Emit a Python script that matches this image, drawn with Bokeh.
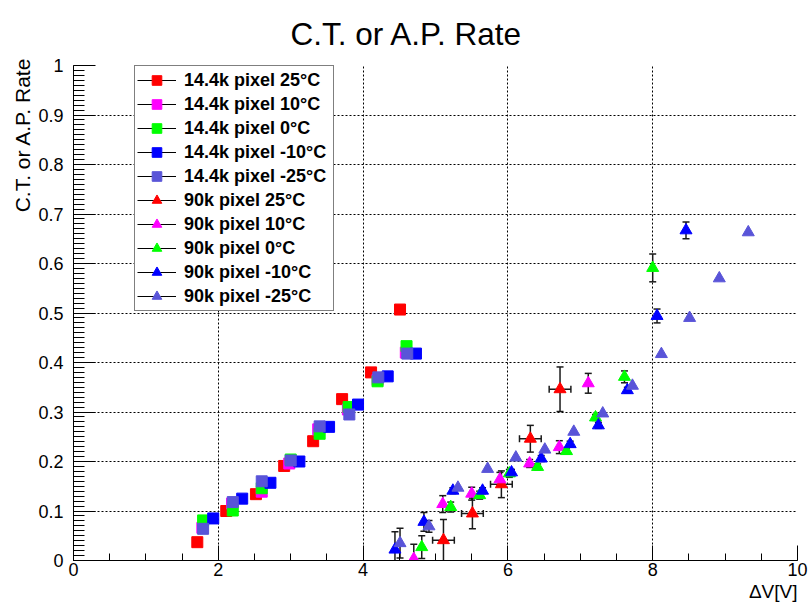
import numpy as np
from bokeh.plotting import figure
from bokeh.models import (Range1d, FixedTicker, Legend, LegendItem, Title,
                          Whisker, TeeHead, ColumnDataSource)
from bokeh.embed import file_html
from bokeh.resources import INLINE

# ---------------- data ----------------
# 14.4k pixel series (squares)
x_14k_25C = [1.71, 2.11, 2.52, 2.91, 3.31, 3.71, 4.11, 4.51]
y_14k_25C = [0.037, 0.100, 0.134, 0.191, 0.241, 0.326, 0.380, 0.507]
x_14k_10C = [1.78, 2.19, 2.60, 2.98, 3.38, 3.79, 4.20, 4.59]
y_14k_10C = [0.066, 0.115, 0.139, 0.196, 0.265, 0.305, 0.365, 0.420]
x_14k_0C = [1.79, 2.20, 2.60, 3.00, 3.40, 3.80, 4.20, 4.60]
y_14k_0C = [0.081, 0.101, 0.146, 0.204, 0.256, 0.310, 0.362, 0.433]
x_14k_m10C = [1.93, 2.33, 2.72, 3.12, 3.53, 3.93, 4.34, 4.73]
y_14k_m10C = [0.085, 0.125, 0.157, 0.200, 0.270, 0.315, 0.372, 0.418]
x_14k_m25C = [1.79, 2.20, 2.60, 3.00, 3.40, 3.81, 4.21, 4.61]
y_14k_m25C = [0.064, 0.118, 0.160, 0.202, 0.271, 0.295, 0.370, 0.418]

# 90k pixel series (triangles)
x_90k_25C = [5.11, 5.51, 5.91, 6.31, 6.72]
y_90k_25C = [0.041, 0.095, 0.154, 0.246, 0.346]
ey_90k_25C = [0.042, 0.031, 0.027, 0.027, 0.045]
ex_90k_25C = [0.15, 0.15, 0.15, 0.15, 0.15]

x_90k_10C = [4.70, 5.10, 5.50, 5.89, 6.30, 6.71, 7.11]
y_90k_10C = [0.003, 0.114, 0.135, 0.164, 0.196, 0.229, 0.358]
ey_90k_10C = [0.030, 0.017, 0.013, 0.014, 0.008, 0.013, 0.020]

x_90k_0C = [4.81, 5.21, 5.61, 6.02, 6.41, 6.81, 7.21, 7.61, 8.00]
y_90k_0C = [0.027, 0.108, 0.132, 0.176, 0.189, 0.221, 0.289, 0.371, 0.591]
ey_90k_0C = [0.023, 0.010, 0.008, 0.008, 0.006, 0.006, 0.006, 0.012, 0.028]

x_90k_m10C = [4.44, 4.84, 5.24, 5.65, 6.05, 6.46, 6.86, 7.25, 7.65, 8.06, 8.46]
y_90k_m10C = [0.022, 0.078, 0.141, 0.141, 0.178, 0.206, 0.235, 0.273, 0.344, 0.494, 0.667]
ey_90k_m10C = [0.036, 0.019, 0.006, 0.006, 0.006, 0.006, 0.006, 0.006, 0.006, 0.014, 0.017]

x_90k_m25C = [4.51, 4.91, 5.31, 5.72, 6.11, 6.51, 6.91, 7.31, 7.72, 8.12, 8.51, 8.92, 9.32]
y_90k_m25C = [0.035, 0.069, 0.147, 0.185, 0.208, 0.224, 0.260, 0.297, 0.353, 0.417, 0.490, 0.570, 0.663]
ey_90k_m25C = [0.030, 0.012, 0, 0, 0, 0, 0, 0, 0, 0, 0, 0, 0]

labels_14k = ["14.4k pixel 25\u00b0C", "14.4k pixel 10\u00b0C", "14.4k pixel 0\u00b0C",
              "14.4k pixel -10\u00b0C", "14.4k pixel -25\u00b0C"]
labels_90k = ["90k pixel 25\u00b0C", "90k pixel 10\u00b0C", "90k pixel 0\u00b0C",
              "90k pixel -10\u00b0C", "90k pixel -25\u00b0C"]
colors = ["#ff0000", "#ff00ff", "#00ff00", "#0000ff", "#5954d8"]

x_ticks = [0, 2, 4, 6, 8, 10]
x_tick_labels = ["0", "2", "4", "6", "8", "10"]
x_minor = [i * 0.5 for i in range(21)]
y_ticks = [0, 0.1, 0.2, 0.3, 0.4, 0.5, 0.6, 0.7, 0.8, 0.9, 1]
y_tick_labels = ["0", "0.1", "0.2", "0.3", "0.4", "0.5", "0.6", "0.7", "0.8", "0.9", "1"]
y_minor = [i / 100 for i in range(101)]

title_text = "C.T. or A.P. Rate"
ylabel_text = "C.T. or A.P. Rate"
xlabel_text = "\u0394V[V]"

FONT = "Liberation Sans"

# ---------------- figure ----------------
p = figure(width=810, height=603, x_range=Range1d(0, 10), y_range=Range1d(0, 1),
           output_backend="svg", toolbar_location=None,
           min_border_left=73, min_border_right=13, min_border_top=65, min_border_bottom=43)
p.outline_line_color = None
p.background_fill_color = "white"
p.border_fill_color = "white"

# title (placed as in the reference, centred on the canvas)
p.title.text = title_text
p.title.align = "left"
p.title.offset = 217
p.title.standoff = 26
p.title.vertical_align = "middle"
p.title.text_font = FONT
p.title.text_font_size = "31.5px"
p.title.text_font_style = "normal"
p.title.text_color = "black"

# axes
p.xaxis.ticker = FixedTicker(ticks=x_ticks, minor_ticks=x_minor)
p.yaxis.ticker = FixedTicker(ticks=y_ticks, minor_ticks=y_minor)
p.xaxis.major_label_overrides = {t: s for t, s in zip(x_ticks, x_tick_labels)}
p.yaxis.major_label_overrides = {t: s for t, s in zip(y_ticks, y_tick_labels)}
for ax in (p.xaxis, p.yaxis):
    ax.axis_line_color = "black"
    ax.axis_line_width = 1
    ax.major_tick_line_color = "black"
    ax.minor_tick_line_color = "black"
    ax.major_tick_out = 0
    ax.minor_tick_out = 0
    ax.major_label_text_font = FONT
    ax.major_label_text_font_size = "18px"
    ax.major_label_text_color = "black"
p.xaxis.major_tick_in = 15
p.xaxis.minor_tick_in = 7
p.yaxis.major_tick_in = 22
p.yaxis.minor_tick_in = 11
p.xaxis.major_label_standoff = 2
p.yaxis.major_label_standoff = 10

# axis titles as side titles (right-aligned like the reference)
p.add_layout(Title(text=ylabel_text, align="right", standoff=4, offset=-8, text_font=FONT,
                   text_font_size="21px", text_font_style="normal", text_color="black"), "left")
p.add_layout(Title(text=xlabel_text, align="right", standoff=0, text_font=FONT,
                   text_font_size="19px", text_font_style="normal", text_color="black"), "below")

# grid
p.xgrid.ticker = FixedTicker(ticks=[2, 4, 6, 8, 10])
p.ygrid.ticker = FixedTicker(ticks=[0.1, 0.2, 0.3, 0.4, 0.5, 0.6, 0.7, 0.8, 0.9, 1])
for g in (p.xgrid, p.ygrid):
    g.grid_line_color = "black"
    g.grid_line_dash = "2 2"
    g.grid_line_width = 1

ERR_COLOR = "#1a1a1a"


def add_whisker(base, lower, upper, dim):
    src = ColumnDataSource(dict(base=base, lower=lower, upper=upper))
    w = Whisker(source=src, base="base", lower="lower", upper="upper", dimension=dim,
                line_color=ERR_COLOR, line_width=1.5, level="underlay",
                upper_head=TeeHead(size=7, line_color=ERR_COLOR, line_width=1.5),
                lower_head=TeeHead(size=7, line_color=ERR_COLOR, line_width=1.5))
    p.add_layout(w)


def yerr(xs, ys, es):
    xs, ys, es = np.array(xs), np.array(ys), np.array(es)
    m = es > 0
    add_whisker(xs[m], ys[m] - es[m], ys[m] + es[m], "height")


def xerr(xs, ys, es):
    xs, ys, es = np.array(xs), np.array(ys), np.array(es)
    m = es > 0
    add_whisker(ys[m], xs[m] - es[m], xs[m] + es[m], "width")


# error bars (drawn beneath markers)
xerr(x_90k_25C, y_90k_25C, ex_90k_25C)
yerr(x_90k_25C, y_90k_25C, ey_90k_25C)
yerr(x_90k_10C, y_90k_10C, ey_90k_10C)
yerr(x_90k_0C, y_90k_0C, ey_90k_0C)
yerr(x_90k_m10C, y_90k_m10C, ey_90k_m10C)
yerr(x_90k_m25C, y_90k_m25C, ey_90k_m25C)

series_14k = [(x_14k_25C, y_14k_25C), (x_14k_10C, y_14k_10C), (x_14k_0C, y_14k_0C),
              (x_14k_m10C, y_14k_m10C), (x_14k_m25C, y_14k_m25C)]
series_90k = [(x_90k_25C, y_90k_25C), (x_90k_10C, y_90k_10C), (x_90k_0C, y_90k_0C),
              (x_90k_m10C, y_90k_m10C), (x_90k_m25C, y_90k_m25C)]

# invisible line renderer, used only for the legend's horizontal line
legend_line = p.line(x=[float("nan")], y=[float("nan")], line_color="black", line_width=1)

items = []
for (xs, ys), lab, c in zip(series_14k, labels_14k, colors):
    r = p.scatter(xs, ys, marker="square", size=11, fill_color=c, line_color=c)
    items.append(LegendItem(label=lab, renderers=[legend_line, r]))
for (xs, ys), lab, c in zip(series_90k, labels_90k, colors):
    r = p.scatter(xs, ys, marker="triangle", size=12, fill_color=c, line_color=c)
    items.append(LegendItem(label=lab, renderers=[legend_line, r]))

legend = Legend(items=items, location=(61, 249))
legend.border_line_color = "black"
legend.border_line_width = 1
legend.background_fill_color = "white"
legend.background_fill_alpha = 1
legend.label_text_font = FONT
legend.label_text_font_style = "bold"
legend.label_text_font_size = "18px"
legend.label_text_color = "black"
legend.glyph_width = 39
legend.glyph_height = 24
legend.label_height = 20
legend.spacing = 0
legend.padding = 2
legend.margin = 0
legend.label_standoff = 8
legend.label_width = 147
p.add_layout(legend)

open("out.html", "w").write(file_html(p, INLINE))
